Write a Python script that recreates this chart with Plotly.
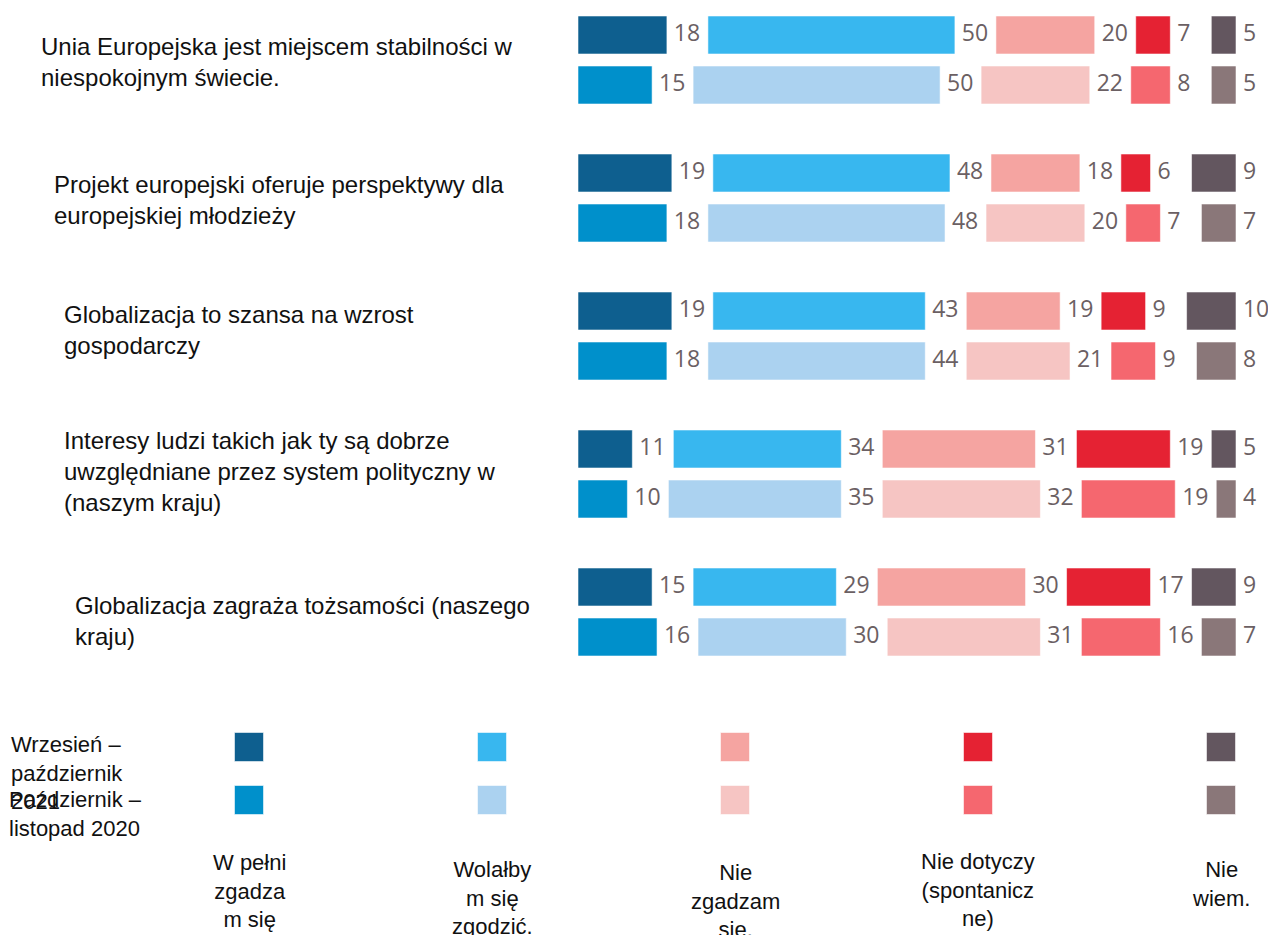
import plotly.graph_objects as go

W, H = 1268, 935

categories = [
    "Unia Europejska jest miejscem stabilności w<br>niespokojnym świecie.",
    "Projekt europejski oferuje perspektywy dla<br>europejskiej młodzieży",
    "Globalizacja to szansa na wzrost<br>gospodarczy",
    "Interesy ludzi takich jak ty są dobrze<br>uwzględniane przez system polityczny w<br>(naszym kraju)",
    "Globalizacja zagraża tożsamości (naszego<br>kraju)",
]
answers = ["W pełni<br>zgadza<br>m się", "Wolałby<br>m się<br>zgodzić.", "Nie<br>zgadzam<br>się.",
           "Nie dotyczy<br>(spontanicz<br>ne)", "Nie<br>wiem."]
waves = ["Wrzesień –<br>październik<br>2021", "Październik –<br>listopad 2020"]

# Wrzesień – październik 2021
w_pelni_2021 = [18, 19, 19, 11, 15]
wolalbym_2021 = [50, 48, 43, 34, 29]
nie_zgadzam_2021 = [20, 18, 19, 31, 30]
nie_dotyczy_2021 = [7, 6, 9, 19, 17]
nie_wiem_2021 = [5, 9, 10, 5, 9]
# Październik – listopad 2020
w_pelni_2020 = [15, 18, 18, 10, 16]
wolalbym_2020 = [50, 48, 44, 35, 30]
nie_zgadzam_2020 = [22, 20, 21, 32, 31]
nie_dotyczy_2020 = [8, 7, 9, 19, 16]
nie_wiem_2020 = [5, 7, 8, 4, 7]

series = [
    [w_pelni_2021, wolalbym_2021, nie_zgadzam_2021, nie_dotyczy_2021, nie_wiem_2021],
    [w_pelni_2020, wolalbym_2020, nie_zgadzam_2020, nie_dotyczy_2020, nie_wiem_2020],
]
colors = [
    ["#0e5f8f", "#38b7ef", "#f5a4a1", "#e52233", "#63565f"],
    ["#0090cb", "#abd2f0", "#f6c5c3", "#f5676f", "#8a7779"],
]

# layout constants (pixels / axis units)
GAP = 8.3          # empty space between segments, in axis units
GROUP_STEP = 2.76
ROW_STEP = 1.0
BAR_W = 0.76
LABEL_PAD = 1.4
X0_PX, X1_PX = 578, 1236
TOTAL = 100 + 4 * GAP
X_MAX = TOTAL * (W - X0_PX) / (X1_PX - X0_PX)   # axis extends to right page edge
VALUE_COLOR = "#6b6063"
VALUE_FONT = dict(family="Liberation Sans Narrow, Open Sans, sans-serif", size=23, color=VALUE_COLOR)
TEXT_FONT = "Liberation Sans, Arial, sans-serif"

fig = go.Figure()

n = len(categories)
for r in range(2):
    ys = [k * GROUP_STEP + r * ROW_STEP for k in range(n)]
    for i, vals in enumerate(series[r]):
        bases = [sum(series[r][j][k] for j in range(i)) + i * GAP for k in range(n)]
        fig.add_trace(go.Bar(
            orientation="h", x=vals, base=bases, y=ys, width=BAR_W,
            marker=dict(color=colors[r][i], line=dict(color="rgba(255,255,255,0.55)", width=1)),
            showlegend=False, hoverinfo="skip",
        ))
        fig.add_trace(go.Scatter(
            x=[b + v + LABEL_PAD for b, v in zip(bases, vals)], y=ys,
            mode="text", text=[str(v) for v in vals], textposition="middle right",
            textfont=VALUE_FONT, cliponaxis=False, showlegend=False, hoverinfo="skip",
        ))

# custom legend squares
for r in range(2):
    fig.add_trace(go.Scatter(
        x=list(range(len(answers))), y=[r] * len(answers), mode="markers",
        marker=dict(symbol="square", size=29, color=colors[r],
                    line=dict(color="rgba(255,255,255,0.55)", width=1)),
        xaxis="x2", yaxis="y2", showlegend=False, hoverinfo="skip", cliponaxis=False,
    ))

def px(x):
    return x / W

def py(y):
    return 1 - y / H

annotations = []
cat_pos = [(39, 62), (52, 200), (62, 330), (62, 471), (73, 621)]
for txt, (x, y) in zip(categories, cat_pos):
    annotations.append(dict(text=txt, x=px(x), y=py(y), xref="paper", yref="paper",
                            xanchor="left", yanchor="middle", align="left", showarrow=False,
                            font=dict(family=TEXT_FONT, size=24, color="#111111")))

wave_pos = [(9, 773), (7, 813.5)]
for txt, (x, y) in zip(waves, wave_pos):
    annotations.append(dict(text=txt, x=px(x), y=py(y), xref="paper", yref="paper",
                            xanchor="left", yanchor="middle", align="left", showarrow=False,
                            font=dict(family=TEXT_FONT, size=22, color="#111111")))

ans_y = [891, 898, 901, 890, 884]
for i, (txt, y) in enumerate(zip(answers, ans_y)):
    annotations.append(dict(text=txt, x=i, xref="x2", y=py(y), yref="paper",
                            xanchor="center", yanchor="middle", align="center", showarrow=False,
                            font=dict(family=TEXT_FONT, size=22, color="#111111")))

# y mapping: row centre of first bar at pixel 35, 50 px per unit
Y_TOP_PX, Y_BOT_PX = 0, 700
y_lo = (Y_TOP_PX - 35) / 50
y_hi = (Y_BOT_PX - 35) / 50

# legend axes: col centres at 249 + 243*i px, rows at 747 and 800 px
L_TOP_PX = 701
lx0 = (0 - 249) / 243
lx1 = (W - 249) / 243
ly0 = (L_TOP_PX - 747) / 53
ly1 = (H - 747) / 53

axis_off = dict(showgrid=False, zeroline=False, showticklabels=False, ticks="", showline=False, fixedrange=True)

fig.update_layout(
    width=W, height=H,
    margin=dict(l=0, r=0, t=0, b=0),
    paper_bgcolor="white", plot_bgcolor="white",
    barmode="overlay",
    xaxis=dict(domain=[X0_PX / W, 1], range=[0, X_MAX], **axis_off),
    yaxis=dict(domain=[py(Y_BOT_PX), py(Y_TOP_PX)], range=[y_hi, y_lo], **axis_off),
    xaxis2=dict(domain=[0, 1], range=[lx0, lx1], anchor="y2", **axis_off),
    yaxis2=dict(domain=[0, py(L_TOP_PX)], range=[ly1, ly0], anchor="x2", **axis_off),
    annotations=annotations,
    showlegend=False,
)

fig.write_html(
    "out.html",
    config={"displayModeBar": False},
    post_script="document.body.style.margin='0px';document.body.style.overflow='hidden';",
)
